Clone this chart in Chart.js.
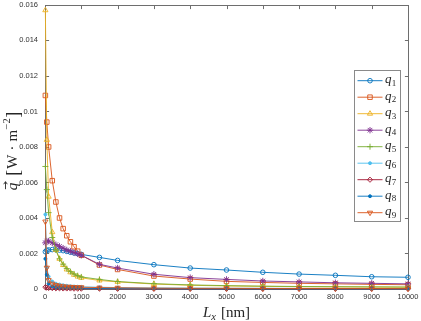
<!DOCTYPE html>
<html><head><meta charset="utf-8">
<script src="https://cdn.jsdelivr.net/npm/chart.js"></script>
<style>html,body{margin:0;padding:0;background:#fff}</style>
</head><body>
<canvas id="c" width="421" height="321"></canvas>
<script>
// ---- data ----
const xValues = [10, 50, 100, 200, 300, 400, 500, 600, 700, 800, 900, 1000, 1500, 2000, 3000, 4000, 5000, 6000, 7000, 8000, 9000, 10000];
const q1 = [0.0021, 0.00218, 0.0022, 0.00222, 0.00221, 0.00219, 0.00216, 0.00212, 0.00207, 0.00203, 0.00199, 0.00195, 0.00178, 0.00161, 0.00137, 0.00118, 0.00107, 0.00094, 0.00084, 0.00077, 0.00069, 0.00066];
const q2 = [0.0109, 0.0094, 0.0080, 0.0061, 0.0049, 0.0040, 0.0034, 0.0030, 0.00266, 0.00238, 0.00213, 0.0019, 0.00135, 0.0011, 0.00073, 0.00056, 0.00043, 0.00037, 0.00032, 0.00029, 0.00026, 0.00024];
const q3 = [0.0157, 0.0084, 0.0052, 0.0032, 0.0022, 0.0017, 0.00135, 0.0011, 0.00094, 0.0008, 0.0007, 0.00063, 0.00048, 0.0004, 0.00028, 0.00021, 0.00017, 0.00015, 0.00013, 0.00012, 0.00011, 0.0001];
const q4 = [0.0026, 0.0027, 0.0027, 0.0026, 0.0025, 0.0024, 0.0023, 0.0022, 0.00213, 0.00205, 0.00198, 0.0019, 0.00139, 0.00118, 0.00083, 0.00064, 0.00054, 0.00045, 0.0004, 0.00035, 0.00032, 0.00029];
const q5 = [0.0069, 0.0056, 0.0043, 0.0029, 0.0022, 0.0017, 0.0014, 0.00115, 0.00098, 0.00085, 0.00075, 0.00068, 0.00054, 0.00042, 0.0003, 0.00023, 0.00019, 0.00016, 0.00014, 0.00013, 0.00012, 0.00011];
const q6 = [0.0042, 0.0012, 0.0007, 0.00042, 0.0003, 0.00025, 0.00021, 0.00018, 0.00016, 0.00014, 0.00013, 0.00012, 0.0001, 0.00008, 0.00006, 0.00005, 0.00004, 0.00004, 0.00003, 0.00003, 0.00003, 0.00002];
const q7 = [0.0001, 0.00008, 0.00006, 0.00005, 0.00004, 0.00004, 0.00003, 0.00003, 0.00003, 0.00002, 0.00002, 0.00002, 0.00002, 0.00001, 0.00001, 0.00001, 0.00001, 0.00001, 0.00001, 0.00001, 0.00001, 0.00001];
const q8 = [0.0017, 0.0008, 0.0003, 0.00015, 0.00011, 0.00009, 0.00008, 0.00007, 0.00006, 0.00005, 0.00005, 0.00004, 0.00003, 0.00002, 0.00002, 0.00001, 0.00001, 0.00001, 0.00001, 0.00001, 0.00001, 0.00001];
const q9 = [0.0038, 0.0012, 0.0005, 0.0003, 0.00022, 0.00018, 0.00015, 0.00013, 0.00012, 0.00011, 0.0001, 0.0001, 0.00008, 0.00007, 0.00005, 0.00004, 0.00004, 0.00003, 0.00003, 0.00003, 0.00003, 0.00002];
const seriesValues = [q1, q2, q3, q4, q5, q6, q7, q8, q9];
const seriesSubscripts = ['1', '2', '3', '4', '5', '6', '7', '8', '9'];
const xTickValues = [0, 1000, 2000, 3000, 4000, 5000, 6000, 7000, 8000, 9000, 10000];
const yTickValues = [0, 0.002, 0.004, 0.006, 0.008, 0.01, 0.012, 0.014, 0.016];

// ---- styles ----
const colors = ['#0072BD', '#D95319', '#EDB120', '#7E2F8E', '#77AC30', '#4DBEEE', '#A2142F', '#0072BD', '#D95319'];
const markers = [
  {style: 'circle', r: 2.3, fill: false, rot: 0},
  {style: 'rect', r: 3.2, fill: false, rot: 0},
  {style: 'triangle', r: 3.0, fill: false, rot: 0},
  {style: 'star', r: 3.2, fill: false, rot: 0},
  {style: 'cross', r: 3.0, fill: false, rot: 0},
  {style: 'circle', r: 1.5, fill: true, rot: 0},
  {style: 'rectRot', r: 2.6, fill: false, rot: 0},
  {style: 'circle', r: 1.5, fill: true, rot: 0},
  {style: 'triangle', r: 3.0, fill: false, rot: 180}
];
const tickFont = {family: '"Liberation Sans", Arial, Helvetica, sans-serif', size: 7.5};
const serif = '"Liberation Serif", "DejaVu Serif", "Times New Roman", serif';

const datasets = seriesValues.map((vals, i) => ({
  label: 'q' + seriesSubscripts[i],
  data: xValues.map((x, k) => ({x: x, y: vals[k]})),
  borderColor: colors[i],
  backgroundColor: markers[i].fill ? colors[i] : 'rgba(0,0,0,0)',
  pointBackgroundColor: markers[i].fill ? colors[i] : 'rgba(0,0,0,0)',
  pointBorderColor: colors[i],
  pointStyle: markers[i].style,
  pointRadius: markers[i].r,
  pointRotation: markers[i].rot,
  pointBorderWidth: 0.9,
  borderWidth: 0.9,
  tension: 0,
  clip: false,
  order: 9 - i
}));

function drawMarker(ctx, m, color, x, y) {
  ctx.save();
  ctx.strokeStyle = color; ctx.fillStyle = color; ctx.lineWidth = 0.9;
  ctx.translate(x, y);
  ctx.rotate(m.rot * Math.PI / 180);
  const r = m.r;
  ctx.beginPath();
  if (m.style === 'circle') { ctx.arc(0, 0, r, 0, Math.PI * 2); }
  else if (m.style === 'rect') { const s = r * Math.SQRT1_2; ctx.rect(-s, -s, 2 * s, 2 * s); }
  else if (m.style === 'rectRot') { ctx.moveTo(0, -r); ctx.lineTo(r, 0); ctx.lineTo(0, r); ctx.lineTo(-r, 0); ctx.closePath(); }
  else if (m.style === 'triangle') {
    for (let k = 0; k < 3; k++) { const a = -Math.PI / 2 + k * 2 * Math.PI / 3; const px = r * Math.cos(a), py = r * Math.sin(a); k ? ctx.lineTo(px, py) : ctx.moveTo(px, py); }
    ctx.closePath();
  }
  else if (m.style === 'cross') { ctx.moveTo(0, -r); ctx.lineTo(0, r); ctx.moveTo(-r, 0); ctx.lineTo(r, 0); }
  else if (m.style === 'star') {
    for (let k = 0; k < 4; k++) { const a = k * Math.PI / 4; ctx.moveTo(r * Math.cos(a), r * Math.sin(a)); ctx.lineTo(-r * Math.cos(a), -r * Math.sin(a)); }
  }
  if (m.fill) ctx.fill();
  ctx.stroke();
  ctx.restore();
}

const framePlugin = {
  id: 'frame',
  beforeDatasetsDraw(chart) {
    const {ctx, chartArea: a, scales} = chart;
    ctx.save();
    ctx.strokeStyle = '#6e6e6e';
    ctx.lineWidth = 1;
    const L = Math.round(a.left) + 0.5, R = Math.round(a.right) + 0.5, T = Math.round(a.top) + 0.5, B = Math.round(a.bottom) + 0.5;
    ctx.strokeRect(L, T, R - L, B - T);
    const tl = 3.6;
    ctx.beginPath();
    scales.x.ticks.forEach(t => {
      const px = Math.round(scales.x.getPixelForValue(t.value)) + 0.5;
      ctx.moveTo(px, B); ctx.lineTo(px, B - tl);
      ctx.moveTo(px, T); ctx.lineTo(px, T + tl);
    });
    scales.y.ticks.forEach(t => {
      const py = Math.round(scales.y.getPixelForValue(t.value)) + 0.5;
      ctx.moveTo(L, py); ctx.lineTo(L + tl, py);
      ctx.moveTo(R, py); ctx.lineTo(R - tl, py);
    });
    ctx.stroke();
    ctx.restore();
  },
  afterDraw(chart) {
    const {ctx, chartArea: a} = chart;
    ctx.save();
    ctx.fillStyle = '#262626';
    ctx.textBaseline = 'alphabetic';
    ctx.textAlign = 'left';
    // ---- y title: q-vector [W · m^-2] ----
    ctx.save();
    ctx.translate(17, (a.top + a.bottom) / 2 + 4);
    ctx.rotate(-Math.PI / 2);
    const big = '15px ' + serif, it = 'italic 15px ' + serif, sup = '10.5px ' + serif, brk = '18px ' + serif;
    const parts = [['q', it, 0, 7], ['[', brk, 1.5, 1], ['W', big, 0, 4], ['\u00b7', big, 0, 4], ['m', big, 0, 0.5], ['\u22122', sup, -7, 0.5], [']', brk, 1.5, 0]];
    let total = 0;
    parts.forEach(p => { ctx.font = p[1]; p.w = ctx.measureText(p[0]).width; total += p.w + p[3]; });
    let x = -total / 2;
    parts.forEach((p, idx) => {
      ctx.font = p[1];
      ctx.fillText(p[0], x, p[2]);
      if (idx === 0) {
        ctx.save();
        ctx.strokeStyle = '#262626'; ctx.lineWidth = 0.9;
        const ay = -11.5, ax0 = x + 1, ax1 = x + 8.5;
        ctx.beginPath(); ctx.moveTo(ax0, ay); ctx.lineTo(ax1, ay);
        ctx.moveTo(ax1 - 2.5, ay - 1.8); ctx.lineTo(ax1, ay); ctx.lineTo(ax1 - 2.5, ay + 1.8);
        ctx.stroke();
        ctx.restore();
      }
      x += p.w + p[3];
    });
    ctx.restore();
    // ---- x title: L_x [nm] ----
    const xparts = [['L', it, 0, 0], ['x', 'italic 10.5px ' + serif, 3, 5], ['[nm]', big, 0, 0]];
    total = 0;
    xparts.forEach(p => { ctx.font = p[1]; p.w = ctx.measureText(p[0]).width; total += p.w + p[3]; });
    x = (a.left + a.right) / 2 - total / 2;
    xparts.forEach(p => { ctx.font = p[1]; ctx.fillText(p[0], x, 316.5 + p[2]); x += p.w + p[3]; });
    // ---- legend ----
    const lx = 354.5, ly = 70.5, lw = 46, lh = 151;
    ctx.fillStyle = '#ffffff';
    ctx.fillRect(lx, ly, lw, lh);
    ctx.strokeStyle = '#8a8a8a'; ctx.lineWidth = 1;
    ctx.strokeRect(lx, ly, lw, lh);
    const rowH = 16.5, y0 = 80.7;
    seriesValues.forEach((vals, i) => {
      const ry = y0 + i * rowH;
      ctx.strokeStyle = colors[i]; ctx.lineWidth = 0.9;
      ctx.beginPath(); ctx.moveTo(357.5, ry); ctx.lineTo(382.5, ry); ctx.stroke();
      drawMarker(ctx, markers[i], colors[i], 370, ry);
      ctx.fillStyle = '#262626';
      ctx.font = 'italic 13px ' + serif;
      ctx.fillText('q', 385, ry + 2.5);
      const qw = ctx.measureText('q').width;
      ctx.font = '9px ' + serif;
      ctx.fillText(seriesSubscripts[i], 385 + qw + 0.3, ry + 5);
    });
    ctx.restore();
  }
};

new Chart(document.getElementById('c'), {
  type: 'line',
  data: {datasets: datasets},
  options: {
    responsive: false,
    animation: false,
    devicePixelRatio: 1,
    layout: {padding: {left: 0, right: 13, top: 4, bottom: 0}},
    plugins: {legend: {display: false}, tooltip: {enabled: false}, title: {display: false}},
    scales: {
      x: {
        type: 'linear', min: 0, max: 10000,
        afterBuildTicks(s) { s.ticks = xTickValues.map(v => ({value: v})); },
        afterFit(s) { s.height = 32; s.paddingLeft = 0; s.paddingRight = 0; },
        grid: {display: false, drawTicks: false}, border: {display: false},
        ticks: {font: tickFont, color: '#333333', padding: 3, maxRotation: 0, autoSkip: false, callback: v => String(v)}
      },
      y: {
        type: 'linear', min: 0, max: 0.016,
        afterBuildTicks(s) { s.ticks = yTickValues.map(v => ({value: v})); },
        afterFit(s) { s.width = 45; s.paddingTop = 0; s.paddingBottom = 0; },
        grid: {display: false, drawTicks: false}, border: {display: false},
        ticks: {font: tickFont, color: '#333333', padding: 7, autoSkip: false, callback: v => String(parseFloat(Number(v).toFixed(4)))}
      }
    }
  },
  plugins: [framePlugin]
});
</script>
</body></html>
